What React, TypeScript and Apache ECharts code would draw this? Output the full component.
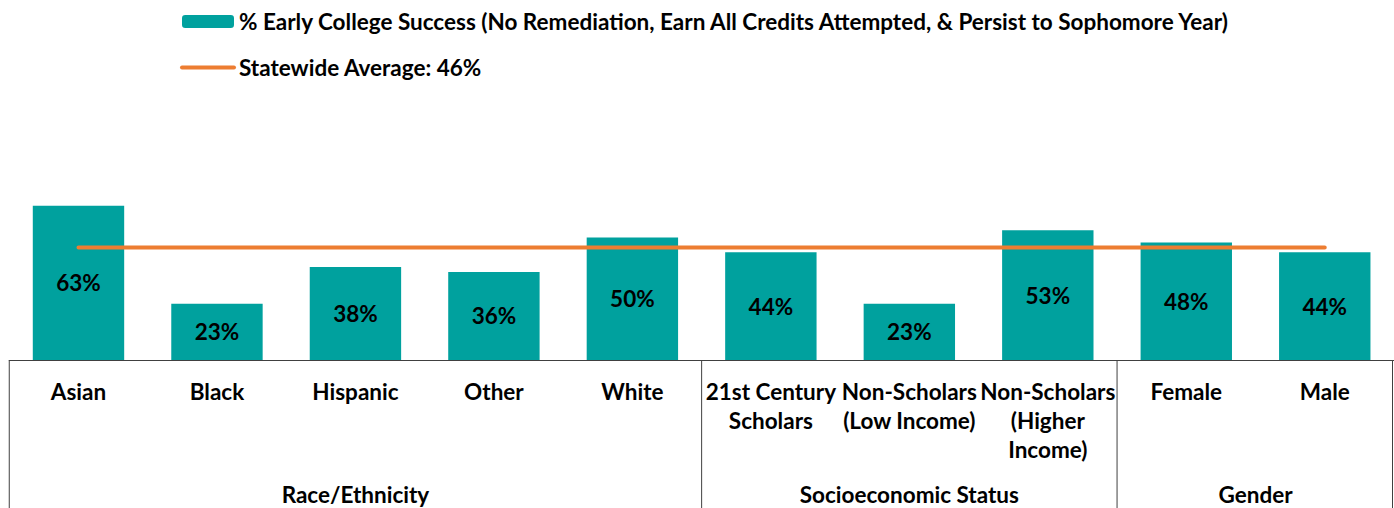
import React, { useEffect, useRef } from "react";
import * as echarts from "echarts";

const categories = [
  "Asian",
  "Black",
  "Hispanic",
  "Other",
  "White",
  "21st Century\nScholars",
  "Non-Scholars\n(Low Income)",
  "Non-Scholars\n(Higher\nIncome)",
  "Female",
  "Male",
];
const successValues = [63, 23, 38, 36, 50, 44, 23, 53, 48, 44];
const statewideAverage = 46;
const groupNames = ["Race/Ethnicity", "Socioeconomic Status", "Gender"];
const groupStarts = [0, 5, 8];
const groupEnds = [4, 7, 9];

const barName =
  "% Early College Success (No Remediation, Earn All Credits Attempted, & Persist to Sophomore Year)";
const lineName = `Statewide Average: ${statewideAverage}%`;

const FONT = "Lato";
const FS = 22.5;
const W = 1394;
const H = 508;

export default function App() {
  const ref = useRef<HTMLDivElement>(null);

  useEffect(() => {
    document.body.style.margin = "0";
    if (!ref.current) return;
    const chart = echarts.init(ref.current, undefined, { renderer: "svg" });
    chart.setOption({
      animation: false,
      textStyle: { fontFamily: FONT },
      legend: {
        orient: "vertical",
        left: 175,
        top: 5,
        itemWidth: 52,
        itemHeight: 13,
        itemGap: 23,
        lineStyle: { width: 4, cap: "round" },
        textStyle: {
          fontFamily: FONT,
          fontSize: FS,
          fontWeight: "bold",
          color: "#000",
          lineHeight: 20,
        },
        data: [barName, lineName],
      },
      grid: { left: 9.25, right: 0, top: 114, bottom: 148 },
      xAxis: {
        type: "category",
        data: categories,
        axisLine: { show: true, lineStyle: { color: "#404040", width: 1 } },
        axisTick: { show: false },
        axisLabel: {
          interval: 0,
          margin: 17,
          fontFamily: FONT,
          fontSize: FS,
          fontWeight: "bold",
          color: "#000",
          lineHeight: 29,
        },
      },
      yAxis: {
        type: "value",
        min: 0,
        max: 100.5,
        show: false,
        splitLine: { show: false },
      },
      series: [
        {
          name: barName,
          type: "bar",
          data: successValues,
          barWidth: "66%",
          itemStyle: { color: "#00A19E" },
          label: {
            show: true,
            position: "inside",
            formatter: "{c}%",
            fontFamily: FONT,
            fontSize: FS,
            fontWeight: "bold",
            color: "#000",
          },
        },
        {
          name: lineName,
          type: "line",
          data: categories.map(() => statewideAverage),
          symbol: "circle",
          showSymbol: false,
          symbolSize: 0,
          lineStyle: { color: "#ED7D31", width: 4, cap: "round" },
          itemStyle: { color: "rgba(0,0,0,0)", borderWidth: 0 },
          z: 5,
        },
      ],
    });

    const cx = (i: number) => chart.convertToPixel({ xAxisIndex: 0 }, i) as number;
    const band = cx(1) - cx(0);
    const baseY = chart.convertToPixel({ yAxisIndex: 0 }, 0) as number;
    const bounds: number[] = [];
    groupStarts.forEach((s) => bounds.push(cx(s) - band / 2));
    bounds.push(cx(groupEnds[groupEnds.length - 1]) + band / 2);
    const graphics: any[] = bounds.map((x) => {
      const xx = Math.min(Math.max(x, 0.5), W - 1.5);
      return {
        type: "line",
        shape: { x1: xx, y1: baseY, x2: xx, y2: H },
        style: { stroke: "#404040", lineWidth: 1 },
        silent: true,
      };
    });
    groupNames.forEach((name, gi) => {
      const mid = (cx(groupStarts[gi]) + cx(groupEnds[gi])) / 2;
      graphics.push({
        type: "text",
        x: mid,
        y: baseY + 134,
        style: {
          text: name,
          fontFamily: FONT,
          fontSize: FS,
          fontWeight: "bold",
          fill: "#000",
          align: "center",
          verticalAlign: "middle",
        },
        silent: true,
      });
    });
    chart.setOption({ graphic: graphics });

    return () => chart.dispose();
  }, []);

  return <div ref={ref} style={{ width: W, height: H }} />;
}
